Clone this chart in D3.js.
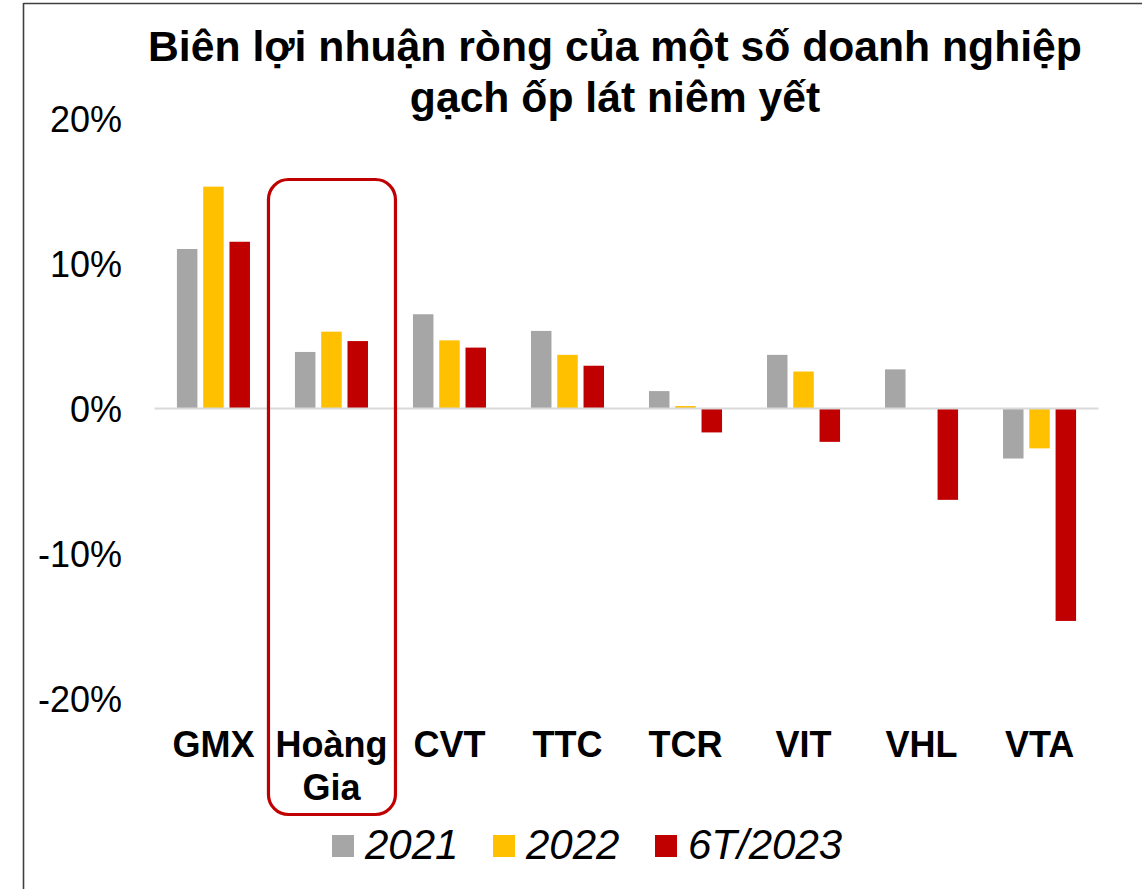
<!DOCTYPE html>
<html>
<head>
<meta charset="utf-8">
<script src="https://cdn.jsdelivr.net/npm/d3@7"></script>
<style>
  html, body { margin: 0; padding: 0; background: #fff; }
  svg { display: block; font-family: "Liberation Sans", Arial, sans-serif; }
</style>
</head>
<body>
<svg id="chart" width="1142" height="889"></svg>
<script>
// ---- data ----
const categories = ["GMX", "Hoàng Gia", "CVT", "TTC", "TCR", "VIT", "VHL", "VTA"];
const seriesNames = ["2021", "2022", "6T/2023"];
const values2021 = [11.0, 3.9, 6.5, 5.35, 1.2, 3.7, 2.7, -3.45];
const values2022 = [15.3, 5.3, 4.7, 3.7, 0.17, 2.55, 0, -2.75];
const values2023 = [11.5, 4.65, 4.2, 2.95, -1.65, -2.3, -6.3, -14.65];
const yTicks = [20, 10, 0, -10, -20];
const titleLines = ["Biên lợi nhuận ròng của một số doanh nghiệp", "gạch ốp lát niêm yết"];
const highlighted = "Hoàng Gia";

const colors = ["#A6A6A6", "#FFC000", "#C00000"];
const seriesValues = [values2021, values2022, values2023];

const svg = d3.select("#chart");

// frame lines (top & left)
svg.append("line").attr("x1", 23.5).attr("x2", 1142).attr("y1", 3.5).attr("y2", 3.5)
  .attr("stroke", "#404040").attr("stroke-width", 1.6);
svg.append("line").attr("x1", 23.5).attr("x2", 23.5).attr("y1", 3).attr("y2", 889)
  .attr("stroke", "#404040").attr("stroke-width", 1.6);

// scales
const y = d3.scaleLinear().domain([-20, 20]).range([698.5, 118.5]);
const x0 = d3.scaleBand().domain(categories).range([154.5, 1098.5])
  .paddingInner(0.381).paddingOuter(0.19);
const x1 = d3.scaleBand().domain(seriesNames).range([0, x0.bandwidth()])
  .paddingInner(0.22).paddingOuter(0);

// title
svg.append("g").selectAll("text").data(titleLines).join("text")
  .attr("x", 615).attr("y", (d, i) => 61 + i * 51)
  .attr("text-anchor", "middle")
  .attr("font-size", 42.7).attr("font-weight", "bold").attr("fill", "#000")
  .text(d => d);

// y axis labels
const yAxis = d3.axisLeft(y).tickValues(yTicks).tickSize(0).tickPadding(0)
  .tickFormat(d => d + "%");
const yg = svg.append("g").attr("transform", "translate(122,1.5)").call(yAxis);
yg.select(".domain").remove();
yg.selectAll("text").attr("font-size", 36).attr("fill", "#000")
  .attr("font-family", "'Liberation Sans', Arial, sans-serif");

// bars
const barData = [];
categories.forEach((c, i) => {
  seriesNames.forEach((s, j) => {
    barData.push({ cat: c, series: s, value: seriesValues[j][i], color: colors[j] });
  });
});
svg.append("g").selectAll("rect").data(barData.filter(d => d.value !== 0)).join("rect")
  .attr("x", d => x0(d.cat) + x1(d.series))
  .attr("width", x1.bandwidth())
  .attr("y", d => y(Math.max(0, d.value)))
  .attr("height", d => Math.abs(y(d.value) - y(0)))
  .attr("fill", d => d.color);

// zero line
svg.append("line")
  .attr("x1", x0.range()[0]).attr("x2", x0.range()[1])
  .attr("y1", y(0)).attr("y2", y(0))
  .attr("stroke", "#D9D9D9").attr("stroke-width", 2);

// x category labels
const xg = svg.append("g");
categories.forEach(c => {
  const parts = c.split(" ");
  const cx = x0(c) + x0.bandwidth() / 2;
  const t = xg.append("text").attr("text-anchor", "middle")
    .attr("font-size", 36).attr("font-weight", "bold").attr("fill", "#000");
  parts.forEach((p, k) => {
    t.append("tspan").attr("x", cx).attr("y", 757 + k * 42.5).text(p);
  });
});

// highlight box
const hx = x0(highlighted) + x0.bandwidth() / 2;
svg.append("rect")
  .attr("x", hx - 63).attr("width", 127)
  .attr("y", 179.5).attr("height", 635)
  .attr("rx", 20).attr("ry", 20)
  .attr("fill", "none").attr("stroke", "#C00000").attr("stroke-width", 3.2);

// legend
const legendX = [332, 493, 655];
const lg = svg.append("g");
seriesNames.forEach((s, j) => {
  lg.append("rect").attr("x", legendX[j]).attr("y", 835).attr("width", 22).attr("height", 22)
    .attr("fill", colors[j]);
  lg.append("text").attr("x", legendX[j] + 33).attr("y", 859)
    .attr("font-size", 42).attr("font-style", "italic").attr("fill", "#000")
    .text(s);
});
</script>
</body>
</html>
